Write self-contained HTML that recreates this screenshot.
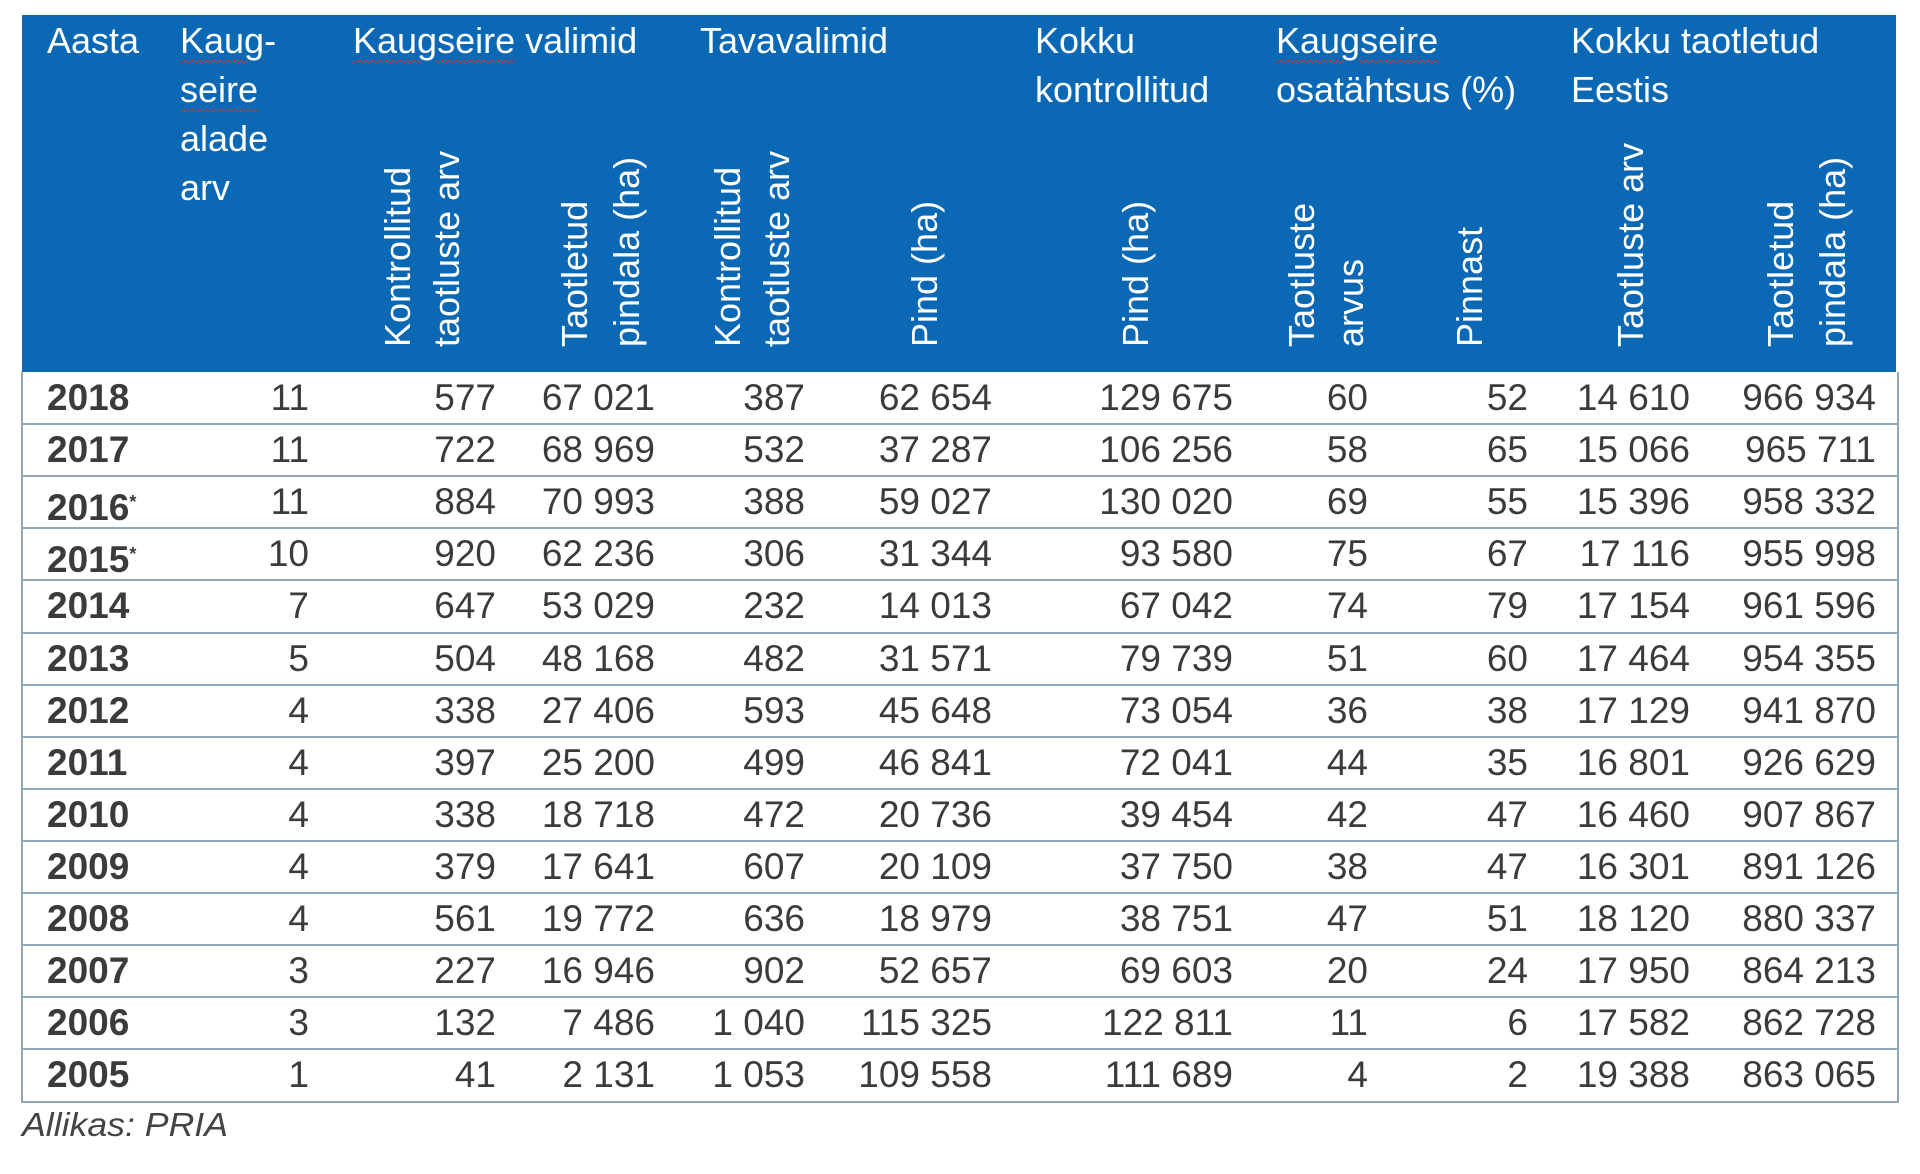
<!DOCTYPE html>
<html><head><meta charset="utf-8">
<style>
html,body{margin:0;padding:0;background:#fff;}
#wrap{position:relative;width:1920px;height:1174px;overflow:hidden;font-family:"Liberation Sans Narrow","Liberation Sans",sans-serif;}
#head{position:absolute;left:22px;top:15px;width:1874px;height:357px;background:#0b68b4;}
#body{position:absolute;left:21px;top:372px;width:1874px;height:729px;border:2px solid #8fa9ba;border-top:none;box-sizing:content-box;}
.h{position:absolute;color:#fff;font-size:36px;white-space:nowrap;transform-origin:0 0;line-height:40px;}
.r{position:absolute;color:#fff;font-size:36px;white-space:nowrap;transform-origin:0 0;line-height:40px;}
.c{position:absolute;color:#3b3b3b;font-family:"Liberation Sans",sans-serif;font-size:37px;white-space:nowrap;line-height:52px;text-align:right;}
.y{font-weight:bold;text-align:left;}
.line{position:absolute;left:21px;width:1876px;height:2px;background:#8fa9ba;}
.sq{text-decoration:underline wavy #c0392b;text-decoration-thickness:1px;text-underline-offset:6px;}
#src{position:absolute;left:22px;top:1106px;font-size:33px;font-style:italic;color:#444;transform-origin:0 0;transform:scaleX(1.08);}
</style></head><body>
<div id="wrap">
<div id="head"></div>
<div id="body"></div>
<div id="src">Allikas: PRIA</div>
</div>
<script>
const years=["2018","2017","2016*","2015*","2014","2013","2012","2011","2010","2009","2008","2007","2006","2005"];
const areas=["11","11","11","10","7","5","4","4","4","4","4","3","3","1"];
const rsApps=["577","722","884","920","647","504","338","397","338","379","561","227","132","41"];
const rsArea=["67 021","68 969","70 993","62 236","53 029","48 168","27 406","25 200","18 718","17 641","19 772","16 946","7 486","2 131"];
const stApps=["387","532","388","306","232","482","593","499","472","607","636","902","1 040","1 053"];
const stArea=["62 654","37 287","59 027","31 344","14 013","31 571","45 648","46 841","20 736","20 109","18 979","52 657","115 325","109 558"];
const totArea=["129 675","106 256","130 020","93 580","67 042","79 739","73 054","72 041","39 454","37 750","38 751","69 603","122 811","111 689"];
const shareApps=["60","58","69","75","74","51","36","44","42","38","47","20","11","4"];
const shareArea=["52","65","55","67","79","60","38","35","47","47","51","24","6","2"];
const estApps=["14 610","15 066","15 396","17 116","17 154","17 464","17 129","16 801","16 460","16 301","18 120","17 950","17 582","19 388"];
const estArea=["966 934","965 711","958 332","955 998","961 596","954 355","941 870","926 629","907 867","891 126","880 337","864 213","862 728","863 065"];
const W=document.getElementById('wrap');
function add(cls,html,l,t,name){const d=document.createElement('div');d.className=cls;d.innerHTML=html;d.style.left=l+'px';d.style.top=t+'px';


W.appendChild(d);return d;}
const hy=[21,70,119,168];
add('h','Aasta',47,hy[0],'header-aasta');
add('h','<span class="sq">Kaug</span>-',180,hy[0],'header-areas-1');
add('h','<span class="sq">seire</span>',180,hy[1],'header-areas-2');
add('h','alade',180,hy[2],'header-areas-3');
add('h','arv',180,hy[3],'header-areas-4');
add('h','<span class="sq">Kaugseire</span> valimid',353,hy[0],'header-remote-sampling');
add('h','Tavavalimid',700,hy[0],'header-standard-sampling');
add('h','Kokku',1035,hy[0],'header-total-1');
add('h','kontrollitud',1035,hy[1],'header-total-2');
add('h','<span class="sq">Kaugseire</span>',1276,hy[0],'header-share-1');
add('h','osatähtsus (%)',1276,hy[1],'header-share-2');
add('h','Kokku taotletud',1571,hy[0],'header-estonia-1');
add('h','Eestis',1571,hy[1],'header-estonia-2');
const rot=[["Kontrollitud",398],["taotluste arv",447],["Taotletud",575],["pindala (ha)",627],["Kontrollitud",728],["taotluste arv",777],["Pind (ha)",925],["Pind (ha)",1136],["Taotluste",1302],["arvus",1351],["Pinnast",1470],["Taotluste arv",1631],["Taotletud",1781],["pindala (ha)",1833]];
rot.forEach((r,i)=>{const d=add('r',r[0],r[1]-20,347,'header-rotated-'+i);d.style.transform='rotate(-90deg)';});
const cols=[[areas,309],[rsApps,496],[rsArea,655],[stApps,805],[stArea,992],[totArea,1233],[shareApps,1368],[shareArea,1528],[estApps,1690],[estArea,1876]];
const top0=372,rh=52.1;
years.forEach((yr,i)=>{
  const t=top0+i*rh;
  add('c y',yr.replace('*','<span style="font-size:18px;vertical-align:12px">*</span>'),47,t,'year-'+yr.replace('*',''));
  cols.forEach((c,j)=>{const d=add('c',c[0][i],c[1]-300,t,'cell-'+yr.replace('*','')+'-col'+(j+2));d.style.width='300px';});
  if(i>0){const l=document.createElement('div');l.className='line';l.style.top=(t-1)+'px';
  
  
  W.appendChild(l);}
});
</script>
</body></html>
